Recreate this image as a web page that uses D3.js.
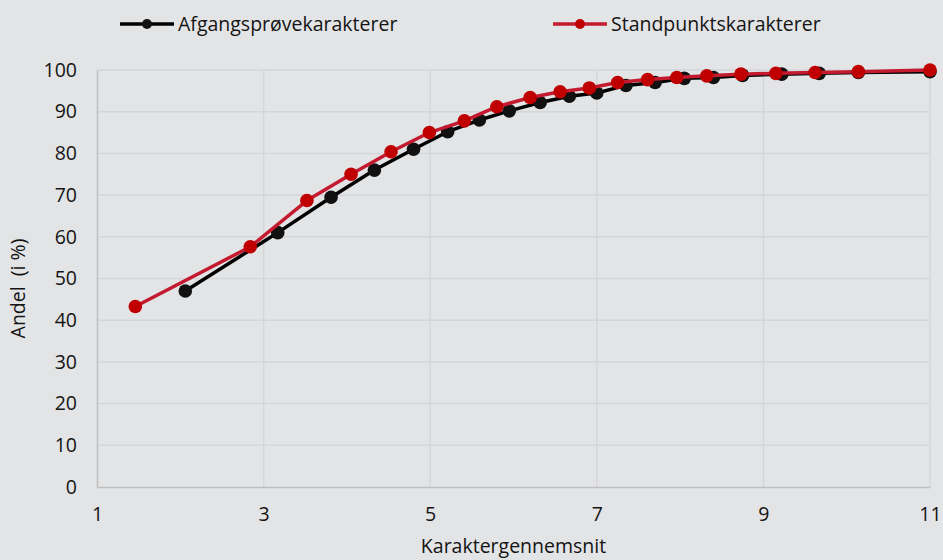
<!DOCTYPE html>
<html>
<head>
<meta charset="utf-8">
<script src="https://cdn.jsdelivr.net/npm/d3@7"></script>
<style>
  body { margin: 0; background: #e3e4e6; }
  text { font-family: "Open Sans", "Noto Sans", sans-serif; fill: #141414; }
</style>
</head>
<body>
<div id="chart"></div>
<script>
var svgWidth = 943;
var svgHeight = 560;

var margin = { top: 70, right: 13, bottom: 73, left: 97 };
var width = svgWidth - margin.left - margin.right;
var height = svgHeight - margin.top - margin.bottom;

var fontSize = "19.5px";

// series data (x = karaktergennemsnit, y = andel i %)
var afgangX = [2.06, 3.17, 3.81, 4.33, 4.80, 5.21, 5.59, 5.95, 6.32, 6.67, 7.00, 7.35, 7.70, 8.05, 8.40, 8.75, 9.22, 9.67, 10.14, 11.0];
var afgangY = [47.0, 61.0, 69.5, 76.0, 81.0, 85.2, 88.0, 90.2, 92.2, 93.7, 94.5, 96.3, 97.0, 98.0, 98.2, 98.7, 99.0, 99.2, 99.4, 99.6];

var standX = [1.46, 2.84, 3.52, 4.05, 4.53, 4.99, 5.41, 5.80, 6.20, 6.56, 6.91, 7.25, 7.61, 7.96, 8.32, 8.73, 9.15, 9.62, 10.14, 11.0];
var standY = [43.3, 57.6, 68.7, 75.0, 80.4, 85.0, 87.8, 91.2, 93.4, 94.8, 95.7, 97.0, 97.7, 98.2, 98.6, 99.0, 99.2, 99.4, 99.6, 100.0];

var xTicks = [1, 3, 5, 7, 9, 11];
var yTicks = [0, 10, 20, 30, 40, 50, 60, 70, 80, 90, 100];

var seriesNames = ["Afgangsprøvekarakterer", "Standpunktskarakterer"];

var series = [
  { name: seriesNames[0], xs: afgangX, ys: afgangY, line: "#000000", dot: "#111111" },
  { name: seriesNames[1], xs: standX, ys: standY, line: "#c41a30", dot: "#c00000" }
];

var svg = d3.select("#chart")
  .append("svg")
  .attr("width", svgWidth)
  .attr("height", svgHeight);

var chartGroup = svg.append("g")
  .attr("transform", `translate(${margin.left}, ${margin.top})`);

var xScale = d3.scaleLinear().domain([1, 11]).range([0, width]);
var yScale = d3.scaleLinear().domain([0, 100]).range([height, 0]);

// gridlines
chartGroup.append("g")
  .selectAll("line.hgrid")
  .data(yTicks.slice(1))
  .enter()
  .append("line")
  .attr("x1", 0).attr("x2", width)
  .attr("y1", d => yScale(d)).attr("y2", d => yScale(d))
  .attr("stroke", "#d5d6d8").attr("stroke-width", 1.5);

chartGroup.append("g")
  .selectAll("line.vgrid")
  .data(xTicks.slice(1))
  .enter()
  .append("line")
  .attr("x1", d => xScale(d)).attr("x2", d => xScale(d))
  .attr("y1", 0).attr("y2", height)
  .attr("stroke", "#d5d6d8").attr("stroke-width", 1.5);

// axes
var bottomAxis = d3.axisBottom(xScale).tickValues(xTicks).tickSize(0).tickPadding(20);
var leftAxis = d3.axisLeft(yScale).tickValues(yTicks).tickSize(0).tickPadding(20);

var xAxis = chartGroup.append("g")
  .attr("transform", `translate(0, ${height})`)
  .call(bottomAxis);
var yAxis = chartGroup.append("g").call(leftAxis);

[xAxis, yAxis].forEach(function(ax) {
  ax.select(".domain").attr("stroke", "#bfbfbf").attr("stroke-width", 1.5);
  ax.selectAll("text")
    .attr("font-size", fontSize)
    .attr("fill", "#141414")
    .style("font-family", "'Open Sans', 'Noto Sans', sans-serif");
});

// axis titles
chartGroup.append("text")
  .attr("x", width / 2)
  .attr("y", height + 66)
  .attr("text-anchor", "middle")
  .attr("font-size", fontSize)
  .text("Karaktergennemsnit");

chartGroup.append("text")
  .attr("transform", "rotate(-90)")
  .attr("x", -(yScale(50) + 10))
  .attr("y", -72)
  .attr("text-anchor", "middle")
  .attr("font-size", fontSize)
  .text("Andel\u00a0 (i %)");

// lines + markers
var lineGen = d3.line()
  .x(d => xScale(d[0]))
  .y(d => yScale(d[1]));

series.forEach(function(s) {
  var pts = s.xs.map((x, i) => [x, s.ys[i]]);
  chartGroup.append("path")
    .datum(pts)
    .attr("fill", "none")
    .attr("stroke", s.line)
    .attr("stroke-width", 3.5)
    .attr("stroke-linejoin", "round")
    .attr("d", lineGen);
  chartGroup.append("g")
    .selectAll("circle")
    .data(pts)
    .enter()
    .append("circle")
    .attr("cx", d => xScale(d[0]))
    .attr("cy", d => yScale(d[1]))
    .attr("r", 6.8)
    .attr("fill", s.dot);
});

// legend
var legendPos = [120, 553];
series.forEach(function(s, i) {
  var g = svg.append("g").attr("transform", `translate(${legendPos[i]}, 24)`);
  g.append("line")
    .attr("x1", 0).attr("x2", 54)
    .attr("y1", 0).attr("y2", 0)
    .attr("stroke", s.line).attr("stroke-width", 3.5);
  g.append("circle")
    .attr("cx", 27).attr("cy", 0).attr("r", 5)
    .attr("fill", s.dot);
  g.append("text")
    .attr("x", 58).attr("y", 7)
    .attr("font-size", fontSize)
    .text(s.name);
});
</script>
</body>
</html>
